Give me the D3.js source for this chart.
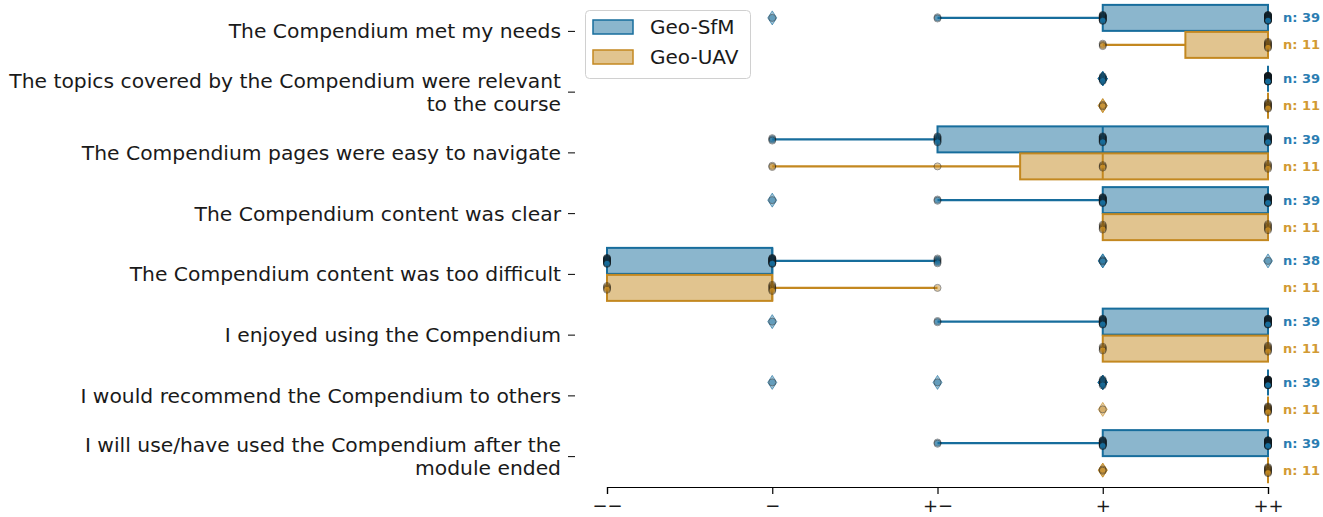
<!DOCTYPE html>
<html><head><meta charset="utf-8">
<script src="https://cdn.jsdelivr.net/npm/d3@7"></script>
<style>body{margin:0;background:#fff}svg{display:block}text{font-family:"DejaVu Sans",sans-serif}</style>
</head><body><svg id="c" width="1323" height="517"></svg>
<script>
const categories = [
  "The Compendium met my needs",
  "The topics covered by the Compendium were relevant\nto the course",
  "The Compendium pages were easy to navigate",
  "The Compendium content was clear",
  "The Compendium content was too difficult",
  "I enjoyed using the Compendium",
  "I would recommend the Compendium to others",
  "I will use/have used the Compendium after the\nmodule ended"
];
const groups = ["Geo-SfM", "Geo-UAV"];
const levels = ["−−", "−", "+−", "+", "++"];
// counts of responses at each level (−− .. ++) per statement
const sfmCounts = [
  [0,1,2,14,22],
  [0,0,0,5,34],
  [0,3,8,12,16],
  [0,1,2,15,21],
  [14,16,5,2,1],
  [0,1,2,14,22],
  [0,1,1,6,31],
  [0,0,2,14,23]
];
const uavCounts = [
  [0,0,0,3,8],
  [0,0,0,2,9],
  [0,2,1,3,5],
  [0,0,0,5,6],
  [4,6,1,0,0],
  [0,0,0,4,7],
  [0,0,0,1,10],
  [0,0,0,2,9]
];
const edgeColors = ["#176d9c", "#c38820"];
const fillColors = ["#8bb6cd", "#e1c48f"];
const labelColors = ["#2b7db2", "#d29a33"];

const svg = d3.select("#c");
const x = d3.scaleLinear().domain([0, 4]).range([607, 1268]);
const y = d3.scaleBand().domain(categories).range([1, 487]);
const sub = d3.scaleBand().domain(groups).range([0, y.bandwidth()]).paddingOuter(0.125).paddingInner(0);

function stats(counts) {
  const vals = [];
  counts.forEach((c, i) => { for (let k = 0; k < c; k++) vals.push(i); });
  vals.sort(d3.ascending);
  const q1 = d3.quantile(vals, 0.25), med = d3.quantile(vals, 0.5), q3 = d3.quantile(vals, 0.75);
  const iqr = q3 - q1;
  const lo = d3.min(vals.filter(v => v >= q1 - 1.5 * iqr));
  const hi = d3.max(vals.filter(v => v <= q3 + 1.5 * iqr));
  const fliers = vals.filter(v => v < lo || v > hi);
  return {vals, q1, med, q3, lo, hi, fliers, n: vals.length};
}

const gMain = svg.append("g");
categories.forEach((cat, ci) => {
  [sfmCounts[ci], uavCounts[ci]].forEach((counts, gi) => {
    const s = stats(counts);
    const y0 = y(cat) + sub(groups[gi]);
    const h = sub.bandwidth();
    const yc = y0 + h / 2;
    const g = gMain.append("g");
    // whiskers
    g.append("line").attr("x1", x(s.lo)).attr("x2", x(s.q1)).attr("y1", yc).attr("y2", yc)
      .attr("stroke", edgeColors[gi]).attr("stroke-width", 2.2);
    g.append("line").attr("x1", x(s.q3)).attr("x2", x(s.hi)).attr("y1", yc).attr("y2", yc)
      .attr("stroke", edgeColors[gi]).attr("stroke-width", 2.2);
    // box
    if (s.q3 > s.q1) {
      g.append("rect").attr("x", x(s.q1)).attr("y", y0 + 0.5).attr("width", x(s.q3) - x(s.q1)).attr("height", h - 1)
        .attr("fill", fillColors[gi]).attr("stroke", edgeColors[gi]).attr("stroke-width", 2);
    }
    g.append("line").attr("x1", x(s.med)).attr("x2", x(s.med)).attr("y1", y0 + 0.5).attr("y2", y0 + h - 0.5)
      .attr("stroke", edgeColors[gi]).attr("stroke-width", 2);
    // fliers
    g.selectAll("path.fl").data(s.fliers).join("path").attr("class", "fl")
      .attr("d", d => `M${x(d)},${yc - 7}L${x(d) + 4.5},${yc}L${x(d)},${yc + 7}L${x(d) - 4.5},${yc}Z`)
      .attr("fill", edgeColors[gi]).attr("fill-opacity", 0.4)
      .attr("stroke", edgeColors[gi]).attr("stroke-opacity", 0.6).attr("stroke-width", 1);
    // strip points
    counts.forEach((c, lv) => {
      if (!c) return;
      const spread = Math.min(6, (c - 1) * 1.2);
      const offs = d3.range(c).map(k => c === 1 ? 0 : -spread / 2 + spread * k / (c - 1));
      g.selectAll(null).data(offs).join("circle")
        .attr("cx", x(lv)).attr("cy", o => yc + o).attr("r", 3.5)
        .attr("fill", edgeColors[gi]).attr("stroke", "#111").attr("stroke-width", 1)
        .attr("opacity", 0.45);
    });
    // n label
    g.append("text").attr("x", 1283).attr("y", yc + 4.5).attr("font-size", 13).attr("font-weight", "bold")
      .attr("fill", labelColors[gi]).text("n: " + s.n);
  });
});

// y axis labels and ticks
categories.forEach(cat => {
  const yc = y(cat) + y.bandwidth() / 2;
  svg.append("line").attr("x1", 568).attr("x2", 575).attr("y1", yc).attr("y2", yc).attr("stroke", "#000").attr("stroke-width", 1);
  const lines = cat.split("\n");
  const t = svg.append("text").attr("text-anchor", "end").attr("font-size", 20.3).attr("fill", "#1a1a1a");
  const lh = 23;
  lines.forEach((ln, i) => {
    t.append("tspan").attr("x", 561).attr("y", yc + 7 + (i - (lines.length - 1) / 2) * lh).text(ln);
  });
});

// x axis
const xAxis = d3.axisBottom(x).tickValues([0,1,2,3,4]).tickFormat(i => levels[i]).tickSizeOuter(0).tickSize(7);
const ax = svg.append("g").attr("transform", "translate(0,487)").call(xAxis);
ax.select(".domain").attr("stroke", "#000").attr("stroke-width", 1.2);
ax.selectAll(".tick line").attr("stroke", "#000").attr("stroke-width", 1.2);
ax.selectAll(".tick text").attr("font-size", 18).attr("fill", "#1a1a1a").attr("font-family", "DejaVu Sans").attr("dy", "0.82em");

// legend
const lg = svg.append("g");
lg.append("rect").attr("x", 585.5).attr("y", 10.5).attr("width", 165).attr("height", 68).attr("rx", 4)
  .attr("fill", "#fff").attr("fill-opacity", 0.8).attr("stroke", "#d0d0d0");
groups.forEach((gname, i) => {
  lg.append("rect").attr("x", 593).attr("y", 20 + i * 30).attr("width", 40).attr("height", 14)
    .attr("fill", fillColors[i]).attr("stroke", edgeColors[i]).attr("stroke-width", 1.5);
  lg.append("text").attr("x", 650).attr("y", 34 + i * 30).attr("font-size", 20).attr("fill", "#1a1a1a").text(gname);
});
</script></body></html>
